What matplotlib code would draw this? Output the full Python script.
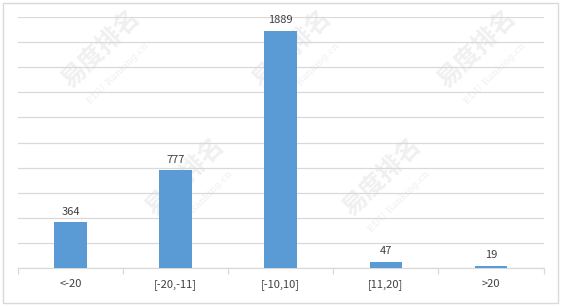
import matplotlib
matplotlib.use("Agg")
import matplotlib.pyplot as plt
from matplotlib.patches import Rectangle

plt.rcParams['font.family'] = ['Noto Sans CJK SC', 'DejaVu Sans']

# Data
categories = ['<-20', '[-20,-11]', '[-10,10]', '[11,20]', '>20']
counts = [364, 777, 1889, 47, 19]

bar_color = '#5B9BD5'
grid_color = '#D9D9D9'
text_color = '#404040'

fig = plt.figure(figsize=(5.62, 3.06), dpi=100)
ax = fig.add_axes([18 / 562, 38 / 306, 525.5 / 562, 251 / 306])

x = range(len(categories))
bars = ax.bar(x, counts, width=0.31, color=bar_color, zorder=3)

for i, v in enumerate(counts):
    ax.text(i, v + 45, str(v), ha='center', va='bottom', fontsize=8,
            color=text_color, zorder=4)

ax.set_xlim(-0.5, len(categories) - 0.5)
ax.set_ylim(0, 2000)
ax.set_yticks(range(0, 2001, 200))
ax.set_yticklabels([])
ax.tick_params(axis='y', length=0)
ax.yaxis.grid(True, color=grid_color, linewidth=0.9, zorder=0)

# category labels between the boundary ticks
ax.set_xticks([i - 0.5 for i in range(len(categories) + 1)])
ax.set_xticklabels([])
ax.set_xticks(list(x), minor=True)
ax.set_xticklabels(categories, minor=True, fontsize=8, color=text_color)
ax.tick_params(axis='x', which='major', length=4, color=grid_color, width=0.9)
ax.tick_params(axis='x', which='minor', length=0, pad=8)

for side in ['top', 'right', 'left']:
    ax.spines[side].set_visible(False)
ax.spines['bottom'].set_color(grid_color)
ax.spines['bottom'].set_linewidth(0.9)

# faint watermark, kept behind the bars
for wx, wy in [(0.18, 0.84), (0.52, 0.84), (0.85, 0.84), (0.33, 0.42), (0.68, 0.42)]:
    ax.text(wx, wy, '易度排名', rotation=45, fontsize=18, fontweight='bold',
            color='#F0F0F0', ha='center', va='center', zorder=1,
            transform=fig.transFigure)
    ax.text(wx + 0.03, wy - 0.08, 'EDU Ranking.cn', rotation=45, fontsize=7,
            color='#F0F0F0', ha='center', va='center', zorder=1,
            transform=fig.transFigure, family=['DejaVu Serif'])

# outer border
fig.patches.append(Rectangle((3 / 562, 3 / 306), 555 / 562, 300 / 306,
                             transform=fig.transFigure, fill=False,
                             edgecolor=grid_color, linewidth=1))

fig.savefig('out.png', dpi=100)
